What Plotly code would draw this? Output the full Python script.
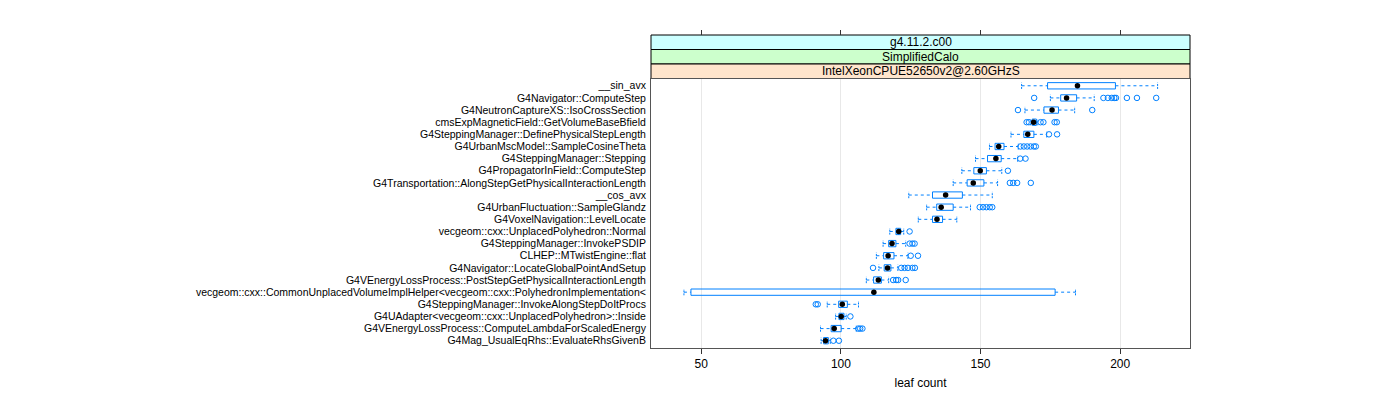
import plotly.graph_objects as go

functions = [
    "__sin_avx",
    "G4Navigator::ComputeStep",
    "G4NeutronCaptureXS::IsoCrossSection",
    "cmsExpMagneticField::GetVolumeBaseBfield",
    "G4SteppingManager::DefinePhysicalStepLength",
    "G4UrbanMscModel::SampleCosineTheta",
    "G4SteppingManager::Stepping",
    "G4PropagatorInField::ComputeStep",
    "G4Transportation::AlongStepGetPhysicalInteractionLength",
    "__cos_avx",
    "G4UrbanFluctuation::SampleGlandz",
    "G4VoxelNavigation::LevelLocate",
    "vecgeom::cxx::UnplacedPolyhedron::Normal",
    "G4SteppingManager::InvokePSDIP",
    "CLHEP::MTwistEngine::flat",
    "G4Navigator::LocateGlobalPointAndSetup",
    "G4VEnergyLossProcess::PostStepGetPhysicalInteractionLength",
    "vecgeom::cxx::CommonUnplacedVolumeImplHelper<vecgeom::cxx::PolyhedronImplementation<",
    "G4SteppingManager::InvokeAlongStepDoItProcs",
    "G4UAdapter<vecgeom::cxx::UnplacedPolyhedron>::Inside",
    "G4VEnergyLossProcess::ComputeLambdaForScaledEnergy",
    "G4Mag_UsualEqRhs::EvaluateRhsGivenB",
]

whisker_low = [164.7, 175.0, 165.9, 168.0, 160.9, 153.2, 148.2, 143.3, 140.2, 124.3, 130.7,
               127.7, 117.5, 115.1, 112.7, 113.6, 109.1, 43.8, 95.1, 98.1, 92.7, 92.9]
q1 = [174.0, 178.7, 172.7, 168.5, 165.5, 155.2, 152.5, 147.6, 145.2, 132.8, 134.3,
      132.8, 119.7, 117.1, 115.3, 115.5, 111.7, 46.3, 99.2, 99.3, 96.5, 93.8]
median = [184.7, 180.8, 175.6, 169.0, 166.9, 156.5, 155.5, 149.9, 147.4, 137.5, 135.9,
          134.4, 120.7, 118.3, 116.9, 116.7, 113.4, 111.8, 100.5, 100.1, 97.6, 94.5]
q3 = [198.3, 184.4, 177.9, 170.0, 169.1, 158.4, 157.4, 152.1, 151.2, 143.5, 140.2,
      136.4, 121.4, 119.7, 119.0, 117.9, 114.5, 176.7, 102.3, 101.1, 100.1, 95.5]
whisker_high = [213.4, 190.7, 183.7, 170.5, 173.7, 163.5, 163.3, 157.6, 156.1, 154.2, 146.4,
                141.5, 122.5, 123.2, 124.0, 120.4, 117.1, 184.0, 106.3, 101.9, 105.5, 96.2]
outliers = [
    [],
    [169.2, 194.0, 195.6, 197.0, 197.9, 198.5, 202.4, 206.0, 212.9],
    [163.4, 190.0],
    [166.5, 167.3, 171.5, 172.5, 176.5, 177.3],
    [174.5, 177.4],
    [164.3, 165.5, 166.7, 167.9, 169.1, 169.8],
    [164.2, 166.1],
    [159.8],
    [160.5, 161.7, 163.1, 168.0],
    [],
    [149.7, 150.9, 152.1, 153.3, 154.2],
    [],
    [124.6],
    [124.6, 125.6, 126.4],
    [125.0, 127.6],
    [111.5, 121.6, 122.8, 124.0, 125.6, 126.5],
    [118.7, 119.8, 120.5, 123.2],
    [],
    [91.0, 91.7],
    [103.4],
    [106.2, 106.9, 107.7],
    [97.3, 99.3],
]

strips = ["g4.11.2.c00", "SimplifiedCalo", "IntelXeonCPUE52650v2@2.60GHzS"]
strip_colors = ["#CCFFFF", "#CCFFCC", "#FFE5CC"]
x_ticks = [50, 100, 150, 200]

BLUE = "#0080ff"
W, H = 1400, 400
n = len(functions)
ypos = [n - i for i in range(n)]  # first function at top
hh = 0.26  # half box height in row units

fig = go.Figure()

# whiskers (dashed)
wx, wy = [], []
for i in range(n):
    y = ypos[i]
    wx += [whisker_low[i], q1[i], None, q3[i], whisker_high[i], None]
    wy += [y, y, None, y, y, None]
fig.add_trace(go.Scatter(x=wx, y=wy, mode="lines", line=dict(color=BLUE, width=1, dash="3px,3px"),
                         hoverinfo="skip", showlegend=False))
# whisker end caps
cx, cy = [], []
for i in range(n):
    y = ypos[i]
    cx += [whisker_low[i], whisker_low[i], None, whisker_high[i], whisker_high[i], None]
    cy += [y - hh, y + hh, None, y - hh, y + hh, None]
fig.add_trace(go.Scatter(x=cx, y=cy, mode="lines", line=dict(color=BLUE, width=1, dash="2px,1px"),
                         hoverinfo="skip", showlegend=False))
# boxes
bx, by = [], []
for i in range(n):
    y = ypos[i]
    bx += [q1[i], q3[i], q3[i], q1[i], q1[i], None]
    by += [y - hh, y - hh, y + hh, y + hh, y - hh, None]
fig.add_trace(go.Scatter(x=bx, y=by, mode="lines", line=dict(color=BLUE, width=1),
                         hoverinfo="skip", showlegend=False))
# outliers
ox, oy = [], []
for i in range(n):
    for v in outliers[i]:
        ox.append(v)
        oy.append(ypos[i])
fig.add_trace(go.Scatter(x=ox, y=oy, mode="markers",
                         marker=dict(symbol="circle-open", size=5.5, color=BLUE, line=dict(width=1)),
                         showlegend=False))
# medians
fig.add_trace(go.Scatter(x=median, y=ypos, mode="markers",
                         marker=dict(symbol="circle", size=5.5, color="black"),
                         showlegend=False))
# dummy trace for top axis
fig.add_trace(go.Scatter(x=[x_ticks[0]], y=[ypos[0]], xaxis="x2", mode="markers",
                         marker=dict(opacity=0), hoverinfo="skip", showlegend=False))

px0, px1 = 651, 1190
py_top, py_bot = 78.5, 348
strip_h = 14.5
xd = [px0 / W, px1 / W]
yd = [(H - py_bot) / H, (H - py_top) / H]
xr = [32.0, 225.0]

fig.update_layout(
    width=W, height=H,
    margin=dict(l=0, r=0, t=0, b=0),
    paper_bgcolor="white", plot_bgcolor="white",
    font=dict(family="Liberation Sans, Arial, sans-serif", size=11, color="black"),
    xaxis=dict(domain=xd, range=xr, tickvals=x_ticks, ticks="outside", ticklen=5,
               tickcolor="#333", showgrid=True, gridcolor="#e8e8e8", gridwidth=1,
               zeroline=False, showline=True, linecolor="#555", linewidth=1, mirror=True,
               tickfont=dict(size=12),
               title=dict(text="leaf count", font=dict(size=12), standoff=8)),
    xaxis2=dict(domain=xd, range=xr, tickvals=x_ticks, ticks="outside", ticklen=5,
                tickcolor="#333", overlaying="x", side="top", anchor="free",
                position=(H - (py_top - 3 * strip_h)) / H, showticklabels=False,
                showgrid=False, zeroline=False, showline=False),
    yaxis=dict(domain=yd, range=[0.4, n + 0.6], tickvals=ypos, ticktext=functions,
               ticks="", showgrid=False, zeroline=False, showline=True, linecolor="#555",
               linewidth=1, mirror=True, tickfont=dict(size=10.5), ticklabelstandoff=2),
)

shapes = []
annotations = []
for k, (txt, col) in enumerate(zip(strips, strip_colors)):
    top = py_top - 3 * strip_h + k * strip_h
    bot = top + strip_h
    shapes.append(dict(type="rect", xref="paper", yref="paper", x0=xd[0], x1=xd[1],
                       y0=(H - bot) / H, y1=(H - top) / H, fillcolor=col,
                       line=dict(color="black", width=1), layer="below"))
    annotations.append(dict(xref="paper", yref="paper", x=(xd[0] + xd[1]) / 2,
                            y=(H - (top + bot) / 2) / H, text=txt, showarrow=False,
                            font=dict(size=12), xanchor="center", yanchor="middle"))
fig.update_layout(shapes=shapes, annotations=annotations)

fig.write_html("out.html", config={"displayModeBar": False},
               post_script="document.body.style.margin='0';")
